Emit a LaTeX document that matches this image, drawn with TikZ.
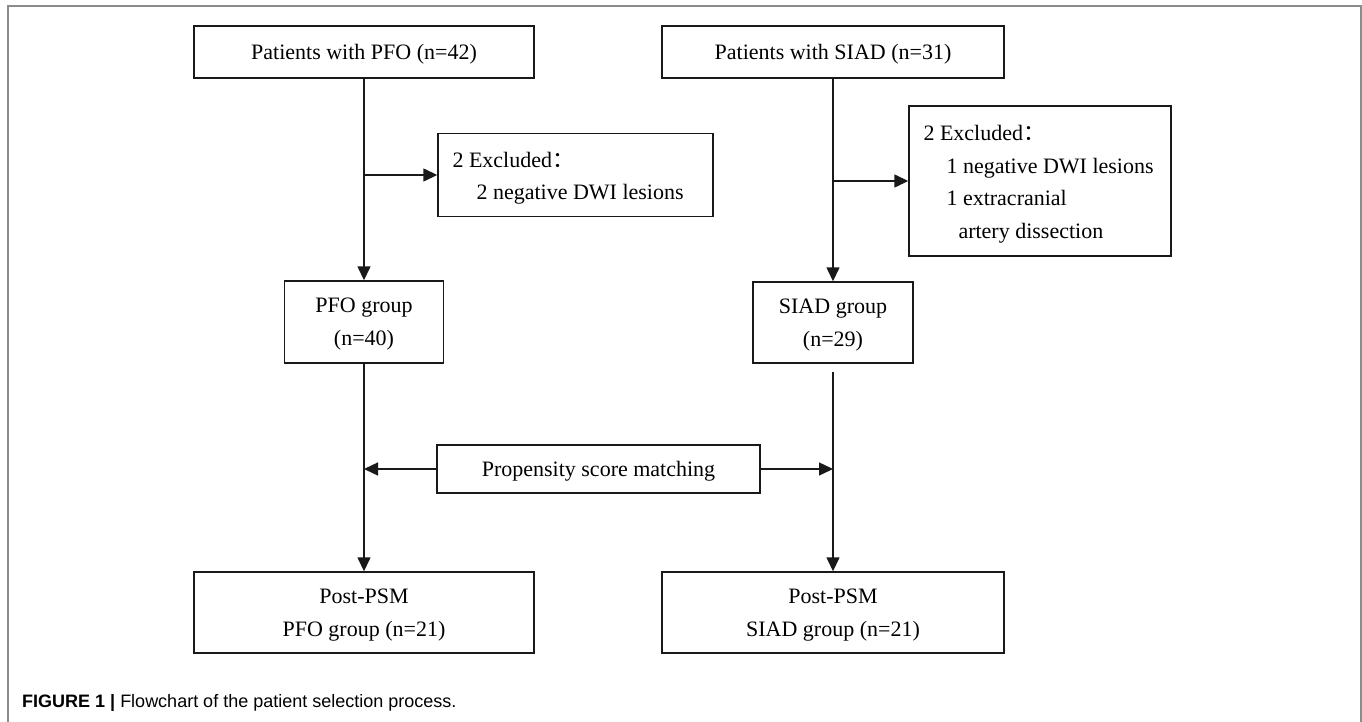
\documentclass[tikz,border=0pt]{standalone}
\usepackage{fontspec}
\setmainfont{Liberation Serif}
\setsansfont{Liberation Sans}
\newfontfamily\cjk{Noto Sans CJK SC}
\usetikzlibrary{arrows.meta,calc}
\definecolor{framegray}{RGB}{140,140,140}
\definecolor{ink}{RGB}{25,25,25}
\tikzset{
  box/.style={draw=ink, line width=1.4pt, inner sep=0pt, align=center, text depth=0pt,
    font=\fontsize{22}{33}\selectfont},
  exbox/.style={draw=ink, line width=1.4pt, inner sep=0pt},
  extext/.style={anchor=west, inner sep=0pt, align=left, text depth=0pt,
    font=\fontsize{22}{32.5}\selectfont},
  arr/.style={draw=ink, line width=1.4pt, -{Triangle[length=14pt,width=13pt]}},
}
\begin{document}
\begin{tikzpicture}[x=1pt,y=-1pt]
\useasboundingbox (0,0) rectangle (1362,722);
% frame
\draw[framegray, line width=1.8pt] (8,730) -- (8,6) -- (1361,6) -- (1361,730);
% nodes
\node[box, minimum width=340pt, minimum height=52pt] (top1) at (364,52) {Patients with PFO (n=42)};
\node[box, minimum width=342pt, minimum height=52pt] (top2) at (833,52) {Patients with SIAD (n=31)};
\node[exbox, minimum width=275pt, minimum height=83pt] (ex1) at (575.5,175) {};
\node[extext] (ex1t) at ($(ex1.west)+(15,1)$)
  {2 Excluded{\cjk ：}\\\hspace*{24pt}2 negative DWI lesions};
\node[exbox, minimum width=262pt, minimum height=150pt] (ex2) at (1040,181) {};
\node[extext] (ex2t) at ($(ex2.west)+(15,1)$)
  {2 Excluded{\cjk ：}\\\hspace*{23pt}1 negative DWI lesions\\\hspace*{23pt}1 extracranial\\\hspace*{35pt}artery dissection};
\node[box, minimum width=159pt, minimum height=82pt] (g1) at (364,322) {PFO group\\(n=40)};
\node[box, minimum width=160pt, minimum height=81pt] (g2) at (833,322.5) {SIAD group\\(n=29)};
\node[box, minimum width=323pt, minimum height=48pt] (psm) at (598.5,469) {Propensity score matching};
\node[box, minimum width=340pt, minimum height=81pt] (b1) at (364,612.5) {Post-PSM\\PFO group (n=21)};
\node[box, minimum width=342pt, minimum height=81pt] (b2) at (833,612.5) {Post-PSM\\SIAD group (n=21)};
% connectors
\draw[arr] (top1.south) -- (g1.north);
\draw[arr] (top1.south |- ex1.west) -- (ex1.west);
\draw[arr] (top2.south) -- (g2.north);
\draw[arr] (top2.south |- ex2.west) -- (ex2.west);
\draw[arr] (g1.south) -- (b1.north);
\draw[arr, shorten <=8pt] (g2.south) -- (b2.north);
\draw[arr] (psm.west) -- (psm.west -| g1.south);
\draw[arr] (psm.east) -- (psm.east -| g2.south);
% caption
\node[anchor=base west, inner sep=0pt, font=\sffamily\fontsize{18}{20}\selectfont] (cap) at (22,707)
  {\textbf{FIGURE 1 |} Flowchart of the patient selection process.};
\end{tikzpicture}
\end{document}
